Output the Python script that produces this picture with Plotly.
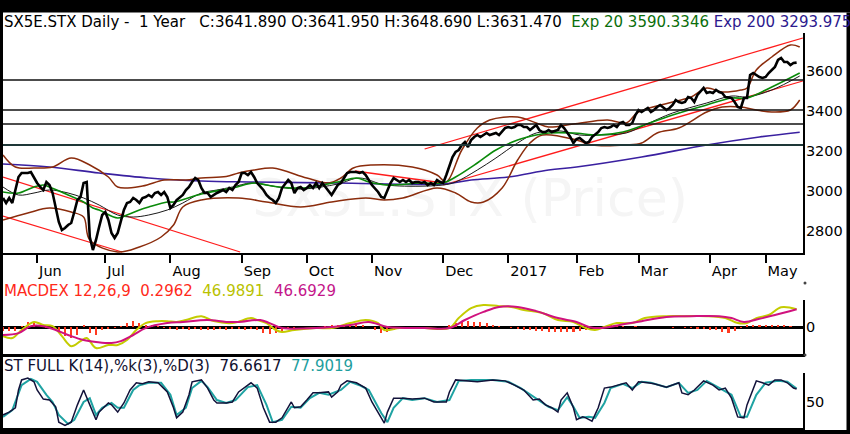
import plotly.graph_objects as go

# ---------------- data ----------------
# x = trading-day index (0 = first bar, ~17 May 2016)
month_day = [11, 33, 54, 77, 98, 119, 142, 163, 185, 205, 228, 246]
month_lbl = ["Jun", "Jul", "Aug", "Sep", "Oct", "Nov", "Dec", "2017", "Feb", "Mar", "Apr", "May"]

close_day = [0,1,2,3,4,5,6,8,9,10,11,12,13,14,15,16,17,18,19,20,21,22,23,24,25,26,27,28,29,30,
             31,32,33,34,35,36,37,38,39,40,41,42,43,44,45,46,47,48,49,50,51,52,53,54,55,56,58,59,60,61,
             62,63,64,65,66,67,68,69,71,72,73,74,75,76,77,78,79,80,81,82,84,85,86,87,88,89,90,92,93,94,
             95,96,97,98,99,100,101,102,103,104,105,106,107,108,109,110,111,112,113,114,115,116,117,118,119,121,122,123,124,125,
             126,127,128,129,130,131,132,133,134,135,136,137,138,139,140,141,142,143,144,145,146,147,148,149,150,151,152,153,154,155,
             156,157,159,160,161,162,163,164,165,166,167,168,169,170,172,173,174,175,176,177,179,180,181,182,183,184,185,186,187,188,
             189,190,192,193,194,195,196,197,198,199,200,201,202,203,204,205,206,207,208,209,210,211,212,214,215,216,217,218,219,220,
             221,222,223,224,225,226,227,228,229,230,231,232,233,235,236,237,238,239,240,241,242,243,244,245,246,247,248,249,250,251,
             252,253,254,255,256]
close_val = [2965,2940,2965,2940,3005,3070,3090,3090,3095,3065,3040,3020,3005,3045,3030,2990,2920,2845,2805,2815,2830,2840,2895,2955,2970,3040,3045,2770,2705,2755,
             2820,2880,2895,2855,2790,2765,2790,2855,2905,2940,2945,2965,2955,2940,2965,2970,2980,2970,2990,2995,2980,2995,2970,2915,2930,2955,2980,3005,3020,3045,
             3065,3055,3015,2990,2990,2970,2980,2990,3005,2995,3015,3005,3030,3045,3090,3090,3080,3095,3070,3040,3005,2980,2965,2955,2940,2965,3015,3055,3040,2990,
             3015,3020,3005,3015,3030,3015,3040,3015,3040,3020,3005,2980,3005,3030,3040,3065,3090,3095,3095,3095,3090,3095,3080,3055,3030,2995,2970,2965,3005,3040,
             3065,3055,3045,3055,3045,3055,3040,3045,3045,3040,3045,3030,3040,3030,3055,3045,3040,3080,3120,3170,3195,3205,3230,3245,3220,3255,3270,3280,3270,3280,
             3290,3280,3290,3280,3295,3315,3320,3315,3320,3330,3330,3320,3320,3305,3330,3305,3295,3295,3305,3295,3305,3330,3315,3295,3270,3240,3260,3265,3250,3240,
             3245,3270,3295,3315,3320,3315,3320,3330,3320,3340,3345,3330,3330,3340,3380,3405,3395,3405,3415,3395,3405,3420,3430,3405,3415,3430,3455,3445,3440,3445,
             3470,3465,3445,3480,3495,3515,3490,3495,3490,3505,3495,3490,3470,3465,3445,3420,3415,3465,3465,3580,3590,3580,3570,3565,3570,3590,3605,3620,3655,3665,
             3645,3645,3630,3640,3642]

ema20_day = [0,5,10,13,15,21,26,29,31,37,40,44,47,53,55,64,74,81,85,89,97,108,114,118,124,135,142,146,153,159,
             166,172,176,184,192,200,205,216,227,235,240,248,257]
ema20_val = [2995,2990,3020,3030,3020,2980,2945,2915,2905,2865,2880,2905,2920,2945,2945,2985,3015,3040,3030,3020,3015,3045,3065,3045,3030,3040,3040,3070,3140,3205,
             3255,3280,3290,3290,3280,3295,3320,3380,3430,3465,3465,3520,3590]

sma20_day = [0,5,10,15,21,26,31,37,42,47,53,58,64,69,74,80,85,91,97,108,115,122,128,142,146,153,159,166,172,180,
             186,193,201,207,216,227,235,240,248,257]
sma20_val = [3020,2980,2990,3005,2990,2965,2930,2880,2870,2880,2905,2940,2990,3005,3020,3040,3030,3015,3010,3035,3065,3035,3025,3030,3045,3105,3165,3240,3290,3300,
             3280,3280,3290,3330,3390,3440,3475,3470,3505,3575]

ema200_day = [0,15,31,47,64,80,108,142,151,163,176,185,206,227,244,257]
ema200_val = [3135,3120,3090,3065,3050,3045,3040,3035,3055,3070,3105,3120,3170,3230,3270,3294]

bbu_day = [0,4,10,16,22,28,34,37,45,52,59,64,72,76,81,87,98,105,109,113,
           119,132,140,143,148,153,157,166,172,176,184,195,201,205,216,222,227,232,238,240,
           243,248,254,257]
bbu_val = [3180,3120,3115,3120,3165,3130,3070,3020,3025,3055,3055,3065,3072,3090,3105,3115,3065,3040,3065,3115,
           3130,3120,3080,3045,3205,3315,3355,3370,3340,3320,3335,3355,3340,3395,3445,3470,3515,3495,3505,3515,
           3605,3670,3730,3720]

bbl_day = [0,8,15,22,26,28,37,44,51,55,58,64,76,85,96,106,117,123,129,140,146,151,155,161,166,170,174,185,190,201,
           206,211,218,227,232,238,243,248,254,257]
bbl_val = [2855,2890,2915,2895,2870,2755,2695,2720,2770,2830,2920,2955,2965,2945,2920,2945,2965,2955,2965,3015,2990,2945,2945,3015,3155,3240,3280,3255,3230,3230,
           3240,3290,3315,3395,3420,3420,3405,3395,3405,3455]

hlines = [3555, 3405, 3335, 3230]

# hand-drawn trend lines: (day, value) end points
tl_up_top_day = [136, 258];   tl_up_top_val = [3210, 3765]
tl_up_bot_day = [142, 258];   tl_up_bot_val = [3030, 3550]
tl_nov_day = [113.5, 142];    tl_nov_val = [3100, 3040]
tl_dn_top_day = [0, 76.5];    tl_dn_top_val = [3070, 2695]
tl_dn_bot_day = [0, 38.4];    tl_dn_bot_val = [2875, 2695]

macd_day = [0,3,6,10,13,16,19,22,25,27,30,34,37,40,43,46,50,53,56,59,
            64,68,74,80,82,85,88,90,94,101,106,112,117,121,123,128,136,144,147,151,
            155,160,164,168,174,179,184,188,191,194,198,203,207,214,220,227,233,237,240,243,
            247,251,256]
macd_val = [-23,-28,-7,14,6,3,-23,-49,-36,-28,-54,-46,-46,-33,-7,11,16,16,14,19,
            29,16,11,24,19,11,-7,-12,-7,-2,-2,11,19,11,-7,-2,-2,-2,24,50,
            58,55,53,45,37,19,14,-2,-7,1,11,11,24,29,29,29,24,11,11,24,
            32,52,47]

sig_day = [0,5,9,13,17,22,26,30,35,38,42,46,53,58,66,72,76,83,86,90,
           101,112,118,124,136,144,149,155,160,166,172,179,185,189,193,201,206,214,222,231,
           235,239,244,249,256]
sig_val = [-20,-15,3,3,-7,-23,-33,-38,-41,-36,-20,-2,11,14,19,14,14,19,11,-2,
           -2,6,14,1,-2,-2,19,40,53,53,42,24,14,1,-2,9,16,27,29,29,
           24,14,22,32,47]

hist_day = list(range(0, 257, 2))
hist_val = [-10,-10,-9,4,13, 12,2,-2,1,-10, -22,-28,-20,6,-16, -19,-8,-5,-3,4, 12,16,12,6,5,
            3,-3,-5,-6,-4, -6,-5,-7,-8,-6, -5,-6,-4,-5,-6, -5,-8,-14,-18,-16, -10,-4,-1,1,2,
            1,2,3,5,7, 9,10,8,5,0, -8,-14,-12,-6,-2, 0,1,1,0,0, 1,2,6,10,14,
            16,15,13,10,7, 4,1,-2,-4,-6, -8,-9,-10,-11,-12, -12,-13,-12,-10,-6, -2,2,4,5,4,
            3,2,3,2,1, 0,1,0,-1,0, -2,-3,-4,-5,-6, -8,-12,-14,-10,-2, 5,7,6,5,6,
            7,5,3,1]

stk_day = [0,2,4,5,6,8,10,11,13,15,17,18,20,22,24,26,28,30,31,34,35,37,39,41,43,45,47,50,53,55,
           56,58,60,61,64,66,68,69,72,74,76,80,82,84,86,88,90,93,94,96,98,100,102,105,106,108,109,111,114,117,
           119,122,123,124,126,129,132,136,139,143,144,146,150,153,158,162,165,168,171,173,175,177,179,180,182,184,185,187,188,190,
           192,194,196,198,201,203,205,208,210,214,216,218,219,221,223,226,229,231,233,235,237,239,240,243,245,247,249,251,253,255,
           256]
stk_val = [23,29,38,75,96,100,92,75,56,54,40,8,1,8,44,75,44,13,29,48,44,29,48,75,90,88,92,90,71,38,
           17,29,65,92,96,79,54,48,48,50,71,90,79,38,8,8,17,50,38,40,54,69,69,71,60,71,85,94,90,79,
           50,19,6,29,58,58,56,58,50,50,71,96,94,92,96,94,85,75,54,56,44,38,29,54,69,38,13,19,17,10,
           38,79,81,85,90,75,92,90,88,81,85,90,69,65,75,94,85,75,79,58,19,17,44,94,90,85,96,96,90,79,
           77]

std_day = [0,3,6,9,11,14,16,18,21,23,26,28,30,32,35,37,39,42,44,47,51,54,56,59,61,64,66,69,72,75,
           79,82,85,87,90,93,96,99,102,105,109,112,115,118,122,124,126,129,132,136,140,144,147,151,158,163,167,172,176,179,
           182,184,186,189,191,194,196,200,203,206,209,214,218,221,224,227,231,235,238,240,243,246,250,253,256]
std_val = [19,33,85,98,92,65,50,23,4,13,50,58,23,38,48,38,38,75,85,90,90,65,23,38,79,94,81,54,48,54,
           81,85,44,8,13,40,38,58,69,65,75,92,85,75,27,8,38,58,54,58,50,54,94,96,96,92,79,58,40,33,
           60,40,17,19,17,48,79,88,79,92,90,81,90,69,75,94,79,65,19,19,65,90,94,92,78]

# ---------------- figure ----------------
FONT = "DejaVu Sans"
XMAX = 258.06
P_DOM = [181/434, 401/434]
M_DOM = [80/434, 134/434]
S_DOM = [6/434, 61/434]

fig = go.Figure()

# watermark (under everything)
fig.add_trace(go.Scatter(x=[XMAX*0.584], y=[2940], mode="text", text=["SX5E.STX (Price)"],
                         textfont=dict(family=FONT, size=52, color="#f5f5f5"),
                         xaxis="x", yaxis="y", hoverinfo="skip"))

def line(xs, ys, color, width, ax="", shape="linear", dash=None):
    fig.add_trace(go.Scatter(x=xs, y=ys, mode="lines",
                             line=dict(color=color, width=width, shape=shape, dash=dash),
                             xaxis="x" + ax, yaxis="y" + ax, hoverinfo="skip"))

# price panel
for d, v in [(tl_dn_top_day, tl_dn_top_val), (tl_dn_bot_day, tl_dn_bot_val),
             (tl_up_top_day, tl_up_top_val), (tl_up_bot_day, tl_up_bot_val), (tl_nov_day, tl_nov_val)]:
    line(d, v, "#ff1c1c", 1.3)
line(ema200_day, ema200_val, "#3a20a0", 1.6, shape="spline")
line(bbu_day, bbu_val, "#8b2c0c", 1.5, shape="spline")
line(bbl_day, bbl_val, "#8b2c0c", 1.5, shape="spline")
line(sma20_day, sma20_val, "#1a1a1a", 1.0, shape="spline")
line(ema20_day, ema20_val, "#0a8a0a", 1.6, shape="spline")
line(close_day, close_val, "#000000", 2.6)

# MACD panel
fig.add_trace(go.Bar(x=hist_day, y=hist_val, width=0.7, marker=dict(color="#ff3a20", line=dict(width=0)),
                     xaxis="x2", yaxis="y2", hoverinfo="skip"))
line(macd_day, macd_val, "#c4cc00", 2.0, ax="2", shape="spline")
line(sig_day, sig_val, "#d0127e", 2.0, ax="2", shape="spline")

# Stochastic panel
line(std_day, std_val, "#1fa3a3", 2.0, ax="3")
line(stk_day, stk_val, "#12123a", 1.5, ax="3")

axis_common = dict(showgrid=False, zeroline=False, linecolor="black", mirror=False)
fig.update_layout(
    width=850, height=434, margin=dict(l=3, r=47, t=0, b=0),
    paper_bgcolor="white", plot_bgcolor="white", showlegend=False, hovermode=False,
    font=dict(family=FONT, size=14, color="black"), bargap=0,
    xaxis=dict(domain=[0, 1], range=[0, XMAX], anchor="y", showline=True, linewidth=2,
               tickmode="array", tickvals=month_day, ticktext=month_lbl,
               ticks="outside", ticklen=8, tickwidth=2, tickcolor="black",
               ticklabelposition="outside right", ticklabelstandoff=4,
               tickfont=dict(size=14.5), **axis_common),
    yaxis=dict(domain=P_DOM, range=[2690, 3790], side="right", anchor="x", showline=True, linewidth=2,
               tickvals=[2800, 3000, 3200, 3400, 3600], ticks="", ticklabelstandoff=-2,
               tickfont=dict(size=14.5), **axis_common),
    xaxis2=dict(domain=[0, 1], range=[0, XMAX], anchor="y2", showline=True, linewidth=2.5,
                showticklabels=False, ticks="", **axis_common),
    yaxis2=dict(domain=M_DOM, range=[-69.4, 71], side="right", anchor="x2", showline=True, linewidth=2,
                tickvals=[0], ticks="", ticklabelstandoff=-2, tickfont=dict(size=14.5),
                showgrid=False, zeroline=True, zerolinecolor="black", zerolinewidth=2.5, linecolor="black"),
    xaxis3=dict(domain=[0, 1], range=[0, XMAX], anchor="y3", showline=True, linewidth=2,
                showticklabels=False, ticks="", **axis_common),
    yaxis3=dict(domain=S_DOM, range=[-4.2, 110.4], side="right", anchor="x3", showline=True, linewidth=2,
                tickvals=[50], ticks="", ticklabelstandoff=-2, tickfont=dict(size=14.5), **axis_common),
)

shapes = []
for v in hlines:
    last = v == hlines[-1]
    shapes.append(dict(type="line", xref="x domain", yref="y", x0=0, x1=1, y0=v, y1=v,
                       line=dict(color="#1e3838" if last else "#111111", width=2.2 if last else 1.4)))
# frame
PX0, PX1 = -3/800, 847/800
shapes += [
    dict(type="rect", xref="paper", yref="paper", x0=PX0, x1=PX1, y0=(434-12.5)/434, y1=1.0,
         fillcolor="black", line=dict(width=0)),
    dict(type="rect", xref="paper", yref="paper", x0=PX0, x1=0, y0=0, y1=1,
         fillcolor="black", line=dict(width=0)),
    dict(type="rect", xref="paper", yref="paper", x0=843.5/800, x1=PX1, y0=0, y1=(434-12.5)/434,
         fillcolor="black", line=dict(width=0)),
    dict(type="rect", xref="paper", yref="paper", x0=PX0, x1=PX1, y0=0, y1=4/434,
         fillcolor="black", line=dict(width=0)),
]
for py in (283, 355):
    shapes.append(dict(type="circle", xref="paper", yref="paper",
                       x0=(803.5-3)/800, x1=(806.5-3)/800, y0=(434-py-1.5)/434, y1=(434-py+1.5)/434,
                       fillcolor="#444444", line=dict(width=0)))
fig.update_layout(shapes=shapes)

NB = "\u00a0"
title = ("SX5E.STX Daily -" + NB + " 1 Year " + NB + " C:3641.890 O:3641.950 H:3648.690 L:3631.470" + NB +
         ' <span style="color:#0b6e0b">Exp 20 3590.3346</span> '
         '<span style="color:#2c1a8e">Exp 200 3293.975</span>')
macd_lbl = ('<span style="color:#ff2a1a">MACDEX 12,26,9' + NB + ' 0.2962</span>' + NB +
            ' <span style="color:#b9c200">46.9891</span>' + NB +
            ' <span style="color:#c4168a">46.6929</span>')
st_lbl = ('<span style="color:#111130">ST FULL K(14),%k(3),%D(3)' + NB + ' 76.6617</span>' + NB +
          ' <span style="color:#1e9e9e">77.9019</span>')

def ann(text, px, py, size=15, **kw):
    fig.add_annotation(text=text, xref="paper", yref="paper", x=(px-3)/800, y=(434-py)/434,
                       xanchor="left", yanchor="middle", showarrow=False,
                       font=dict(family=FONT, size=size, color="black"), **kw)

ann(title, 2, 22)
ann(macd_lbl, 2, 291)
ann(st_lbl, 2, 366)

fig.write_html("out.html", config={"displayModeBar": False, "staticPlot": True},
               post_script="document.body.style.margin='0';document.body.style.overflow='hidden';")
